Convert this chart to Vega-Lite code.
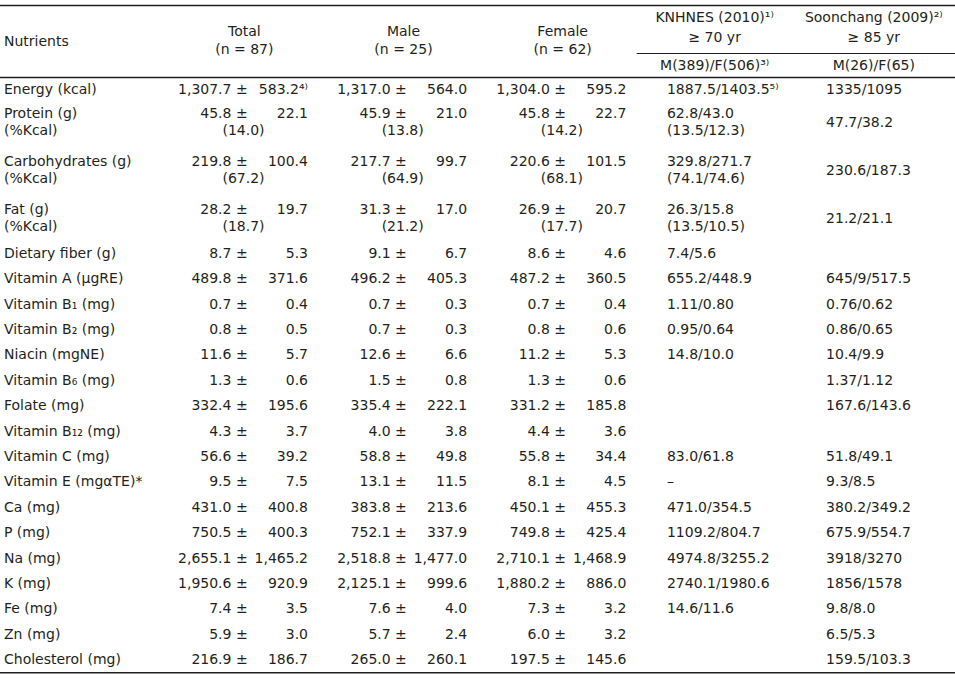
{
"$schema": "https://vega.github.io/schema/vega-lite/v6.json",
"width": 955, "height": 679, "padding": 0, "autosize": {"type": "none"},
"config": {"view": {"stroke": null}, "text": {"font": "DejaVu Sans", "fontSize": 14, "fill": "#231f20", "baseline": "middle"}, "rule": {"stroke": "#231f20"}},
"datasets": {
"A": [
{"line":"H2","col":"Nutrients","name":"Nutrients"},
{"line":"H2","col":"Total","hd1":"Total","hd2":"(n = 87)"},
{"line":"H2","col":"Male","hd1":"Male","hd2":"(n = 25)"},
{"line":"H2","col":"Female","hd1":"Female","hd2":"(n = 62)"},
{"line":"H1","col":"KNHNES","hk":"KNHNES (2010)¹⁾"},
{"line":"H1","col":"Soonchang","hk":"Soonchang (2009)²⁾"},
{"line":"H2","col":"KNHNES","hk2":"≥ 70 yr"},
{"line":"H2","col":"Soonchang","hk2":"≥ 85 yr"},
{"line":"H3","col":"KNHNES","hk":"M(389)/F(506)³⁾"},
{"line":"H3","col":"Soonchang","hk":"M(26)/F(65)"},
{"line":"Energy (kcal)","col":"Nutrients","name":"Energy (kcal)"},
{"line":"Energy (kcal)","col":"Total","mean":"1,307.7 ±","sd":"583.2⁴⁾"},
{"line":"Energy (kcal)","col":"Male","mean":"1,317.0 ±","sd":"564.0"},
{"line":"Energy (kcal)","col":"Female","mean":"1,304.0 ±","sd":"595.2"},
{"line":"Energy (kcal)","col":"KNHNES","ref":"1887.5/1403.5⁵⁾"},
{"line":"Energy (kcal)","col":"Soonchang","ref":"1335/1095"},
{"line":"Protein (g)","col":"Nutrients","name":"Protein (g)","namesub":"\u00a0(%Kcal)"},
{"line":"Protein (g)","col":"Total","mean":"45.8 ±","sd":"22.1","pct":"(14.0)"},
{"line":"Protein (g)","col":"Male","mean":"45.9 ±","sd":"21.0","pct":"(13.8)"},
{"line":"Protein (g)","col":"Female","mean":"45.8 ±","sd":"22.7","pct":"(14.2)"},
{"line":"Protein (g)","col":"KNHNES","ref":"62.8/43.0","refsub":"(13.5/12.3)"},
{"line":"Protein (g)","col":"Soonchang","mid":"47.7/38.2"},
{"line":"Carbohydrates (g)","col":"Nutrients","name":"Carbohydrates (g)","namesub":"\u00a0(%Kcal)"},
{"line":"Carbohydrates (g)","col":"Total","mean":"219.8 ±","sd":"100.4","pct":"(67.2)"},
{"line":"Carbohydrates (g)","col":"Male","mean":"217.7 ±","sd":"99.7","pct":"(64.9)"},
{"line":"Carbohydrates (g)","col":"Female","mean":"220.6 ±","sd":"101.5","pct":"(68.1)"},
{"line":"Carbohydrates (g)","col":"KNHNES","ref":"329.8/271.7","refsub":"(74.1/74.6)"},
{"line":"Carbohydrates (g)","col":"Soonchang","mid":"230.6/187.3"},
{"line":"Fat (g)","col":"Nutrients","name":"Fat (g)","namesub":"\u00a0(%Kcal)"},
{"line":"Fat (g)","col":"Total","mean":"28.2 ±","sd":"19.7","pct":"(18.7)"},
{"line":"Fat (g)","col":"Male","mean":"31.3 ±","sd":"17.0","pct":"(21.2)"},
{"line":"Fat (g)","col":"Female","mean":"26.9 ±","sd":"20.7","pct":"(17.7)"},
{"line":"Fat (g)","col":"KNHNES","ref":"26.3/15.8","refsub":"(13.5/10.5)"},
{"line":"Fat (g)","col":"Soonchang","mid":"21.2/21.1"}
],
"B": [
{"line":"Dietary fiber (g)","col":"Nutrients","name":"Dietary fiber (g)"},
{"line":"Dietary fiber (g)","col":"Total","mean":"8.7 ±","sd":"5.3"},
{"line":"Dietary fiber (g)","col":"Male","mean":"9.1 ±","sd":"6.7"},
{"line":"Dietary fiber (g)","col":"Female","mean":"8.6 ±","sd":"4.6"},
{"line":"Dietary fiber (g)","col":"KNHNES","ref":"7.4/5.6"},
{"line":"Vitamin A (μgRE)","col":"Nutrients","name":"Vitamin A (μgRE)"},
{"line":"Vitamin A (μgRE)","col":"Total","mean":"489.8 ±","sd":"371.6"},
{"line":"Vitamin A (μgRE)","col":"Male","mean":"496.2 ±","sd":"405.3"},
{"line":"Vitamin A (μgRE)","col":"Female","mean":"487.2 ±","sd":"360.5"},
{"line":"Vitamin A (μgRE)","col":"KNHNES","ref":"655.2/448.9"},
{"line":"Vitamin A (μgRE)","col":"Soonchang","ref":"645/9/517.5"},
{"line":"Vitamin B₁ (mg)","col":"Nutrients","name":"Vitamin B₁ (mg)"},
{"line":"Vitamin B₁ (mg)","col":"Total","mean":"0.7 ±","sd":"0.4"},
{"line":"Vitamin B₁ (mg)","col":"Male","mean":"0.7 ±","sd":"0.3"},
{"line":"Vitamin B₁ (mg)","col":"Female","mean":"0.7 ±","sd":"0.4"},
{"line":"Vitamin B₁ (mg)","col":"KNHNES","ref":"1.11/0.80"},
{"line":"Vitamin B₁ (mg)","col":"Soonchang","ref":"0.76/0.62"},
{"line":"Vitamin B₂ (mg)","col":"Nutrients","name":"Vitamin B₂ (mg)"},
{"line":"Vitamin B₂ (mg)","col":"Total","mean":"0.8 ±","sd":"0.5"},
{"line":"Vitamin B₂ (mg)","col":"Male","mean":"0.7 ±","sd":"0.3"},
{"line":"Vitamin B₂ (mg)","col":"Female","mean":"0.8 ±","sd":"0.6"},
{"line":"Vitamin B₂ (mg)","col":"KNHNES","ref":"0.95/0.64"},
{"line":"Vitamin B₂ (mg)","col":"Soonchang","ref":"0.86/0.65"},
{"line":"Niacin (mgNE)","col":"Nutrients","name":"Niacin (mgNE)"},
{"line":"Niacin (mgNE)","col":"Total","mean":"11.6 ±","sd":"5.7"},
{"line":"Niacin (mgNE)","col":"Male","mean":"12.6 ±","sd":"6.6"},
{"line":"Niacin (mgNE)","col":"Female","mean":"11.2 ±","sd":"5.3"},
{"line":"Niacin (mgNE)","col":"KNHNES","ref":"14.8/10.0"},
{"line":"Niacin (mgNE)","col":"Soonchang","ref":"10.4/9.9"},
{"line":"Vitamin B₆ (mg)","col":"Nutrients","name":"Vitamin B₆ (mg)"},
{"line":"Vitamin B₆ (mg)","col":"Total","mean":"1.3 ±","sd":"0.6"},
{"line":"Vitamin B₆ (mg)","col":"Male","mean":"1.5 ±","sd":"0.8"},
{"line":"Vitamin B₆ (mg)","col":"Female","mean":"1.3 ±","sd":"0.6"},
{"line":"Vitamin B₆ (mg)","col":"Soonchang","ref":"1.37/1.12"},
{"line":"Folate (mg)","col":"Nutrients","name":"Folate (mg)"},
{"line":"Folate (mg)","col":"Total","mean":"332.4 ±","sd":"195.6"},
{"line":"Folate (mg)","col":"Male","mean":"335.4 ±","sd":"222.1"},
{"line":"Folate (mg)","col":"Female","mean":"331.2 ±","sd":"185.8"},
{"line":"Folate (mg)","col":"Soonchang","ref":"167.6/143.6"},
{"line":"Vitamin B₁₂ (mg)","col":"Nutrients","name":"Vitamin B₁₂ (mg)"},
{"line":"Vitamin B₁₂ (mg)","col":"Total","mean":"4.3 ±","sd":"3.7"},
{"line":"Vitamin B₁₂ (mg)","col":"Male","mean":"4.0 ±","sd":"3.8"},
{"line":"Vitamin B₁₂ (mg)","col":"Female","mean":"4.4 ±","sd":"3.6"},
{"line":"Vitamin C (mg)","col":"Nutrients","name":"Vitamin C (mg)"},
{"line":"Vitamin C (mg)","col":"Total","mean":"56.6 ±","sd":"39.2"},
{"line":"Vitamin C (mg)","col":"Male","mean":"58.8 ±","sd":"49.8"},
{"line":"Vitamin C (mg)","col":"Female","mean":"55.8 ±","sd":"34.4"},
{"line":"Vitamin C (mg)","col":"KNHNES","ref":"83.0/61.8"},
{"line":"Vitamin C (mg)","col":"Soonchang","ref":"51.8/49.1"},
{"line":"Vitamin E (mgαTE)*","col":"Nutrients","name":"Vitamin E (mgαTE)*"},
{"line":"Vitamin E (mgαTE)*","col":"Total","mean":"9.5 ±","sd":"7.5"},
{"line":"Vitamin E (mgαTE)*","col":"Male","mean":"13.1 ±","sd":"11.5"},
{"line":"Vitamin E (mgαTE)*","col":"Female","mean":"8.1 ±","sd":"4.5"},
{"line":"Vitamin E (mgαTE)*","col":"KNHNES","ref":"–"},
{"line":"Vitamin E (mgαTE)*","col":"Soonchang","ref":"9.3/8.5"},
{"line":"Ca (mg)","col":"Nutrients","name":"Ca (mg)"},
{"line":"Ca (mg)","col":"Total","mean":"431.0 ±","sd":"400.8"},
{"line":"Ca (mg)","col":"Male","mean":"383.8 ±","sd":"213.6"},
{"line":"Ca (mg)","col":"Female","mean":"450.1 ±","sd":"455.3"},
{"line":"Ca (mg)","col":"KNHNES","ref":"471.0/354.5"},
{"line":"Ca (mg)","col":"Soonchang","ref":"380.2/349.2"},
{"line":"P (mg)","col":"Nutrients","name":"P (mg)"},
{"line":"P (mg)","col":"Total","mean":"750.5 ±","sd":"400.3"},
{"line":"P (mg)","col":"Male","mean":"752.1 ±","sd":"337.9"},
{"line":"P (mg)","col":"Female","mean":"749.8 ±","sd":"425.4"},
{"line":"P (mg)","col":"KNHNES","ref":"1109.2/804.7"},
{"line":"P (mg)","col":"Soonchang","ref":"675.9/554.7"},
{"line":"Na (mg)","col":"Nutrients","name":"Na (mg)"},
{"line":"Na (mg)","col":"Total","mean":"2,655.1 ±","sd":"1,465.2"},
{"line":"Na (mg)","col":"Male","mean":"2,518.8 ±","sd":"1,477.0"},
{"line":"Na (mg)","col":"Female","mean":"2,710.1 ±","sd":"1,468.9"},
{"line":"Na (mg)","col":"KNHNES","ref":"4974.8/3255.2"},
{"line":"Na (mg)","col":"Soonchang","ref":"3918/3270"},
{"line":"K (mg)","col":"Nutrients","name":"K (mg)"},
{"line":"K (mg)","col":"Total","mean":"1,950.6 ±","sd":"920.9"},
{"line":"K (mg)","col":"Male","mean":"2,125.1 ±","sd":"999.6"},
{"line":"K (mg)","col":"Female","mean":"1,880.2 ±","sd":"886.0"},
{"line":"K (mg)","col":"KNHNES","ref":"2740.1/1980.6"},
{"line":"K (mg)","col":"Soonchang","ref":"1856/1578"},
{"line":"Fe (mg)","col":"Nutrients","name":"Fe (mg)"},
{"line":"Fe (mg)","col":"Total","mean":"7.4 ±","sd":"3.5"},
{"line":"Fe (mg)","col":"Male","mean":"7.6 ±","sd":"4.0"},
{"line":"Fe (mg)","col":"Female","mean":"7.3 ±","sd":"3.2"},
{"line":"Fe (mg)","col":"KNHNES","ref":"14.6/11.6"},
{"line":"Fe (mg)","col":"Soonchang","ref":"9.8/8.0"},
{"line":"Zn (mg)","col":"Nutrients","name":"Zn (mg)"},
{"line":"Zn (mg)","col":"Total","mean":"5.9 ±","sd":"3.0"},
{"line":"Zn (mg)","col":"Male","mean":"5.7 ±","sd":"2.4"},
{"line":"Zn (mg)","col":"Female","mean":"6.0 ±","sd":"3.2"},
{"line":"Zn (mg)","col":"Soonchang","ref":"6.5/5.3"},
{"line":"Cholesterol (mg)","col":"Nutrients","name":"Cholesterol (mg)"},
{"line":"Cholesterol (mg)","col":"Total","mean":"216.9 ±","sd":"186.7"},
{"line":"Cholesterol (mg)","col":"Male","mean":"265.0 ±","sd":"260.1"},
{"line":"Cholesterol (mg)","col":"Female","mean":"197.5 ±","sd":"145.6"},
{"line":"Cholesterol (mg)","col":"Soonchang","ref":"159.5/103.3"}
]
},
"layer": [
{
"data": {"name": "A"},
"encoding": {"y": {"field": "line", "type": "ordinal", "axis": null, "bandPosition": 0.5, "scale": {"type": "band", "domain": ["H1","H2","H3","Energy (kcal)","Protein (g)","_p","Carbohydrates (g)","_c","Fat (g)"], "range": [5.5, 221.5], "paddingInner": 0, "paddingOuter": 0}}},
"layer": [
{"data": {"values": [{"line": "H1"}, {"line": "Energy (kcal)"}]}, "mark": {"type": "rule", "strokeWidth": 1.6},
 "encoding": {"y": {"field": "line", "type": "ordinal", "axis": null, "bandPosition": 0, "scale": {"type": "band", "domain": ["H1","H2","H3","Energy (kcal)","Protein (g)","_p","Carbohydrates (g)","_c","Fat (g)"], "range": [5.5, 221.5], "paddingInner": 0, "paddingOuter": 0}}}},
{"data": {"values": [{"line": "H3", "col": "KNHNES"}]}, "mark": {"type": "rule", "strokeWidth": 1},
 "encoding": {"y": {"field": "line", "type": "ordinal", "axis": null, "bandPosition": 0, "scale": {"type": "band", "domain": ["H1","H2","H3","Energy (kcal)","Protein (g)","_p","Carbohydrates (g)","_c","Fat (g)"], "range": [5.5, 221.5], "paddingInner": 0, "paddingOuter": 0}},
  "x": {"field": "col", "type": "nominal", "axis": null, "bandPosition": 0, "scale": {"type": "band", "domain": ["Nutrients","Total","Male","Female","KNHNES","Soonchang"], "paddingInner": 0, "paddingOuter": 0}},
  "x2": {"value": "width"}}},
{"transform": [{"filter": "isValid(datum.name)"}], "mark": {"type": "text", "align": "left"},
 "encoding": {"x": {"field": "col", "type": "nominal", "axis": null, "bandPosition": 0.025, "scale": {"type": "band", "domain": ["Nutrients","Total","Male","Female","KNHNES","Soonchang"], "paddingInner": 0, "paddingOuter": 0}}, "text": {"field": "name"}}},
{"transform": [{"filter": "isValid(datum.namesub)"}], "mark": {"type": "text", "align": "left", "dy": 17.5},
 "encoding": {"x": {"field": "col", "type": "nominal", "axis": null, "bandPosition": 0.025, "scale": {"type": "band", "domain": ["Nutrients","Total","Male","Female","KNHNES","Soonchang"], "paddingInner": 0, "paddingOuter": 0}}, "text": {"field": "namesub"}}},
{"transform": [{"filter": "isValid(datum.mean)"}], "mark": {"type": "text", "align": "right"},
 "encoding": {"x": {"field": "col", "type": "nominal", "axis": null, "bandPosition": 0.556, "scale": {"type": "band", "domain": ["Nutrients","Total","Male","Female","KNHNES","Soonchang"], "paddingInner": 0, "paddingOuter": 0}}, "text": {"field": "mean"}}},
{"transform": [{"filter": "isValid(datum.sd)"}], "mark": {"type": "text", "align": "right"},
 "encoding": {"x": {"field": "col", "type": "nominal", "axis": null, "bandPosition": 0.935, "scale": {"type": "band", "domain": ["Nutrients","Total","Male","Female","KNHNES","Soonchang"], "paddingInner": 0, "paddingOuter": 0}}, "text": {"field": "sd"}}},
{"transform": [{"filter": "isValid(datum.pct)"}], "mark": {"type": "text", "align": "center", "dy": 17.5},
 "encoding": {"x": {"field": "col", "type": "nominal", "axis": null, "bandPosition": 0.53, "scale": {"type": "band", "domain": ["Nutrients","Total","Male","Female","KNHNES","Soonchang"], "paddingInner": 0, "paddingOuter": 0}}, "text": {"field": "pct"}}},
{"transform": [{"filter": "isValid(datum.ref)"}], "mark": {"type": "text", "align": "left"},
 "encoding": {"x": {"field": "col", "type": "nominal", "axis": null, "bandPosition": 0.19, "scale": {"type": "band", "domain": ["Nutrients","Total","Male","Female","KNHNES","Soonchang"], "paddingInner": 0, "paddingOuter": 0}}, "text": {"field": "ref"}}},
{"transform": [{"filter": "isValid(datum.refsub)"}], "mark": {"type": "text", "align": "left", "dy": 17.5},
 "encoding": {"x": {"field": "col", "type": "nominal", "axis": null, "bandPosition": 0.19, "scale": {"type": "band", "domain": ["Nutrients","Total","Male","Female","KNHNES","Soonchang"], "paddingInner": 0, "paddingOuter": 0}}, "text": {"field": "refsub"}}},
{"transform": [{"filter": "isValid(datum.mid)"}], "mark": {"type": "text", "align": "left", "dy": 9},
 "encoding": {"x": {"field": "col", "type": "nominal", "axis": null, "bandPosition": 0.19, "scale": {"type": "band", "domain": ["Nutrients","Total","Male","Female","KNHNES","Soonchang"], "paddingInner": 0, "paddingOuter": 0}}, "text": {"field": "mid"}}},
{"transform": [{"filter": "isValid(datum.hd1)"}], "mark": {"type": "text", "align": "center", "dy": -10},
 "encoding": {"x": {"field": "col", "type": "nominal", "axis": null, "bandPosition": 0.535, "scale": {"type": "band", "domain": ["Nutrients","Total","Male","Female","KNHNES","Soonchang"], "paddingInner": 0, "paddingOuter": 0}}, "text": {"field": "hd1"}}},
{"transform": [{"filter": "isValid(datum.hd2)"}], "mark": {"type": "text", "align": "center", "dy": 8},
 "encoding": {"x": {"field": "col", "type": "nominal", "axis": null, "bandPosition": 0.535, "scale": {"type": "band", "domain": ["Nutrients","Total","Male","Female","KNHNES","Soonchang"], "paddingInner": 0, "paddingOuter": 0}}, "text": {"field": "hd2"}}},
{"transform": [{"filter": "isValid(datum.hk)"}], "mark": {"type": "text", "align": "center"},
 "encoding": {"x": {"field": "col", "type": "nominal", "axis": null, "bandPosition": 0.49, "scale": {"type": "band", "domain": ["Nutrients","Total","Male","Female","KNHNES","Soonchang"], "paddingInner": 0, "paddingOuter": 0}}, "text": {"field": "hk"}}},
{"transform": [{"filter": "isValid(datum.hk2)"}], "mark": {"type": "text", "align": "center", "dy": -4},
 "encoding": {"x": {"field": "col", "type": "nominal", "axis": null, "bandPosition": 0.49, "scale": {"type": "band", "domain": ["Nutrients","Total","Male","Female","KNHNES","Soonchang"], "paddingInner": 0, "paddingOuter": 0}}, "text": {"field": "hk2"}}}
]
},
{
"data": {"name": "B"},
"encoding": {"y": {"field": "line", "type": "ordinal", "axis": null, "bandPosition": 0.5, "scale": {"type": "band", "domain": ["Dietary fiber (g)","Vitamin A (μgRE)","Vitamin B₁ (mg)","Vitamin B₂ (mg)","Niacin (mgNE)","Vitamin B₆ (mg)","Folate (mg)","Vitamin B₁₂ (mg)","Vitamin C (mg)","Vitamin E (mgαTE)*","Ca (mg)","P (mg)","Na (mg)","K (mg)","Fe (mg)","Zn (mg)","Cholesterol (mg)"], "range": [241.3, 672.7], "paddingInner": 0, "paddingOuter": 0}}},
"layer": [
{"data": {"values": [{"line": "Cholesterol (mg)"}]}, "mark": {"type": "rule", "strokeWidth": 1.6},
 "encoding": {"y": {"field": "line", "type": "ordinal", "axis": null, "bandPosition": 1, "scale": {"type": "band", "domain": ["Dietary fiber (g)","Vitamin A (μgRE)","Vitamin B₁ (mg)","Vitamin B₂ (mg)","Niacin (mgNE)","Vitamin B₆ (mg)","Folate (mg)","Vitamin B₁₂ (mg)","Vitamin C (mg)","Vitamin E (mgαTE)*","Ca (mg)","P (mg)","Na (mg)","K (mg)","Fe (mg)","Zn (mg)","Cholesterol (mg)"], "range": [241.3, 672.7], "paddingInner": 0, "paddingOuter": 0}}}},
{"transform": [{"filter": "isValid(datum.name)"}], "mark": {"type": "text", "align": "left"},
 "encoding": {"x": {"field": "col", "type": "nominal", "axis": null, "bandPosition": 0.025, "scale": {"type": "band", "domain": ["Nutrients","Total","Male","Female","KNHNES","Soonchang"], "paddingInner": 0, "paddingOuter": 0}}, "text": {"field": "name"}}},
{"transform": [{"filter": "isValid(datum.mean)"}], "mark": {"type": "text", "align": "right"},
 "encoding": {"x": {"field": "col", "type": "nominal", "axis": null, "bandPosition": 0.556, "scale": {"type": "band", "domain": ["Nutrients","Total","Male","Female","KNHNES","Soonchang"], "paddingInner": 0, "paddingOuter": 0}}, "text": {"field": "mean"}}},
{"transform": [{"filter": "isValid(datum.sd)"}], "mark": {"type": "text", "align": "right"},
 "encoding": {"x": {"field": "col", "type": "nominal", "axis": null, "bandPosition": 0.935, "scale": {"type": "band", "domain": ["Nutrients","Total","Male","Female","KNHNES","Soonchang"], "paddingInner": 0, "paddingOuter": 0}}, "text": {"field": "sd"}}},
{"transform": [{"filter": "isValid(datum.ref)"}], "mark": {"type": "text", "align": "left"},
 "encoding": {"x": {"field": "col", "type": "nominal", "axis": null, "bandPosition": 0.19, "scale": {"type": "band", "domain": ["Nutrients","Total","Male","Female","KNHNES","Soonchang"], "paddingInner": 0, "paddingOuter": 0}}, "text": {"field": "ref"}}}
]
}
],
"resolve": {"scale": {"y": "independent"}}
}
